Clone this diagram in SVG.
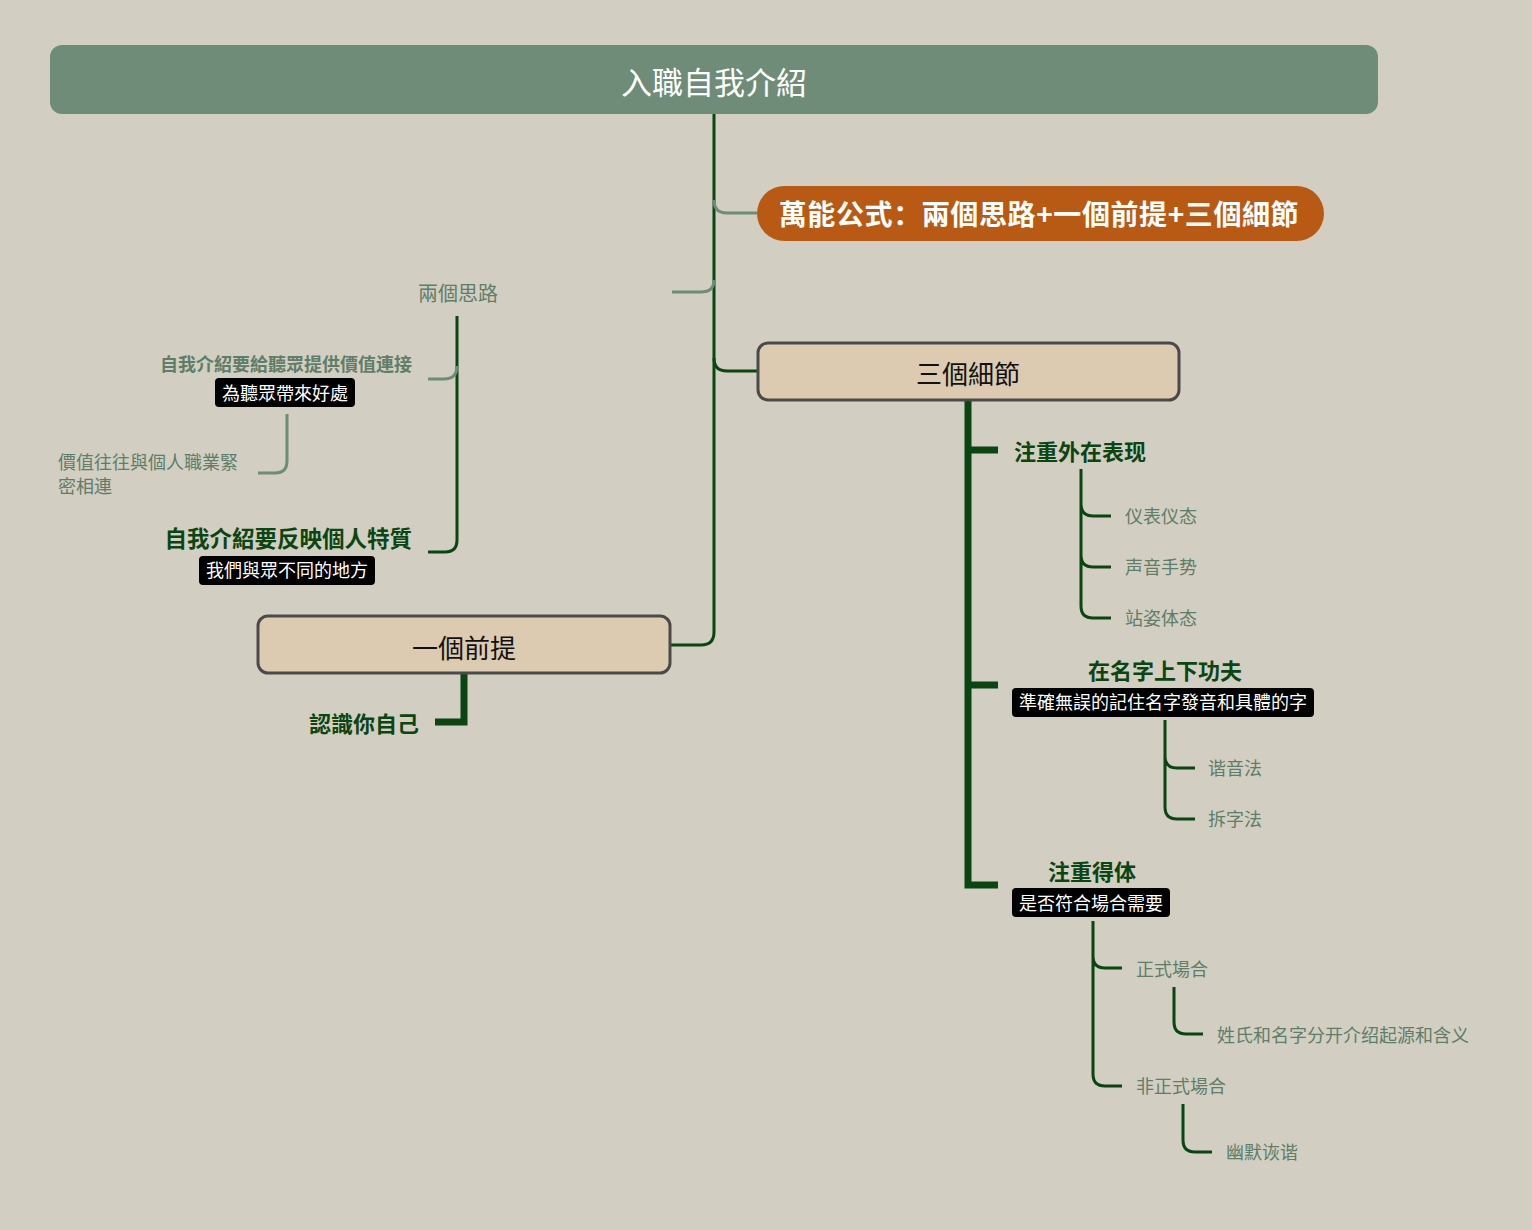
<svg xmlns="http://www.w3.org/2000/svg" width="1532" height="1230" viewBox="0 0 1532 1230">
<style>
text{font-family:"Noto Sans CJK SC","Noto Sans CJK TC",sans-serif;dominant-baseline:central}
.dk{fill:none;stroke:#0a4512;stroke-width:3}
.lt{fill:none;stroke:#6e8c78;stroke-width:3}
.thk{fill:none;stroke:#0a4512;stroke-width:7}
.topic{fill:#dccbb0;stroke:#4a4a4a;stroke-width:3}
.tag{fill:#000}
.tagt{fill:#fff;font-size:18px;text-anchor:middle}
.leaf{fill:#5f7d68;font-size:18px}
.sub{fill:#0a4512;font-size:22px;font-weight:bold}
</style>
<rect width="1532" height="1230" fill="#d2cfc2"/>
<g id="connectors">
<path class="dk" d="M714,114 V632 Q714,645 701,645 H670"/>
<path class="lt" d="M714,200 Q714,213 727,213 H757"/>
<path class="lt" d="M714,280 Q714,292 701,292 H672"/>
<path class="dk" d="M714,358 Q714,371 727,371 H758"/>
<path class="dk" d="M457,316 V540 Q457,552 445,552 H428"/>
<path class="lt" d="M457,366 Q457,379 444,379 H428"/>
<path class="lt" d="M287,414 V461 Q287,473 275,473 H258"/>
<path class="thk" d="M464,674 V722 H435"/>
<path class="thk" d="M968,400 V885 H998"/>
<path class="thk" d="M968,450 H998"/>
<path class="thk" d="M968,685 H998"/>
<path class="dk" d="M1081,469 V606 Q1081,618 1093,618 H1111 M1081,504 Q1081,516 1093,516 H1111 M1081,555 Q1081,567 1093,567 H1111"/>
<path class="dk" d="M1165,720 V807 Q1165,819 1177,819 H1195 M1165,756 Q1165,768 1177,768 H1195"/>
<path class="dk" d="M1093,921 V1074 Q1093,1086 1105,1086 H1122 M1093,956 Q1093,968 1105,968 H1122"/>
<path class="dk" d="M1174,987 V1022 Q1174,1034 1186,1034 H1203"/>
<path class="dk" d="M1183,1104 V1140 Q1183,1152 1195,1152 H1212"/>
</g>
<g id="root">
<rect x="50" y="45" width="1328" height="69" rx="12" fill="#6e8c78"/>
<text x="714" y="80" font-size="31" fill="#fff" text-anchor="middle">入職自我介紹</text>
</g>
<g id="formula">
<rect x="757" y="186" width="567" height="55" rx="27.5" fill="#b85a14"/>
<text x="1039" y="213" font-size="28" font-weight="bold" fill="#fff" text-anchor="middle" letter-spacing="0.6">萬能公式：兩個思路+一個前提+三個細節</text>
</g>
<g id="two-ideas">
<text x="458" y="292" font-size="20" fill="#5f7d68" text-anchor="middle">兩個思路</text>
</g>
<g id="value">
<text x="412" y="363" font-size="18" font-weight="bold" fill="#5f7d68" text-anchor="end">自我介紹要給聽眾提供價值連接</text>
<rect class="tag" x="215" y="378" width="140" height="29" rx="4"/>
<text class="tagt" x="285" y="392">為聽眾帶來好處</text>
</g>
<g id="value-note">
<text class="leaf" x="58" y="461">價值往往與個人職業緊</text>
<text class="leaf" x="58" y="485">密相連</text>
</g>
<g id="traits">
<text x="412" y="537" font-size="22.5" font-weight="bold" fill="#0a4512" text-anchor="end">自我介紹要反映個人特質</text>
<rect class="tag" x="199" y="556" width="176" height="29" rx="4"/>
<text class="tagt" x="287" y="569">我們與眾不同的地方</text>
</g>
<g id="premise">
<rect class="topic" x="258" y="616" width="412" height="57" rx="10"/>
<text x="464" y="646" font-size="26" fill="#111" text-anchor="middle">一個前提</text>
</g>
<g id="know-self">
<text class="sub" x="419" y="722" text-anchor="end">認識你自己</text>
</g>
<g id="details">
<rect class="topic" x="758" y="343" width="421" height="57" rx="10"/>
<text x="968" y="372" font-size="26" fill="#111" text-anchor="middle">三個細節</text>
</g>
<g id="appearance">
<text class="sub" x="1014" y="450">注重外在表现</text>
</g>
<g id="l1"><text class="leaf" x="1125" y="515">仪表仪态</text></g>
<g id="l2"><text class="leaf" x="1125" y="566">声音手势</text></g>
<g id="l3"><text class="leaf" x="1125" y="617">站姿体态</text></g>
<g id="name">
<text class="sub" x="1165" y="669" text-anchor="middle">在名字上下功夫</text>
<rect class="tag" x="1012" y="688" width="302" height="29" rx="4"/>
<text class="tagt" x="1163" y="701">準確無誤的記住名字發音和具體的字</text>
</g>
<g id="l4"><text class="leaf" x="1208" y="767">谐音法</text></g>
<g id="l5"><text class="leaf" x="1208" y="818">拆字法</text></g>
<g id="decent">
<text class="sub" x="1092" y="870" text-anchor="middle">注重得体</text>
<rect class="tag" x="1012" y="888" width="158" height="29" rx="4"/>
<text class="tagt" x="1091" y="902">是否符合場合需要</text>
</g>
<g id="formal"><text class="leaf" x="1136" y="968">正式場合</text></g>
<g id="formal-1"><text class="leaf" x="1217" y="1034">姓氏和名字分开介绍起源和含义</text></g>
<g id="informal"><text class="leaf" x="1136" y="1085">非正式場合</text></g>
<g id="informal-1"><text class="leaf" x="1226" y="1151">幽默诙谐</text></g>
</svg>
